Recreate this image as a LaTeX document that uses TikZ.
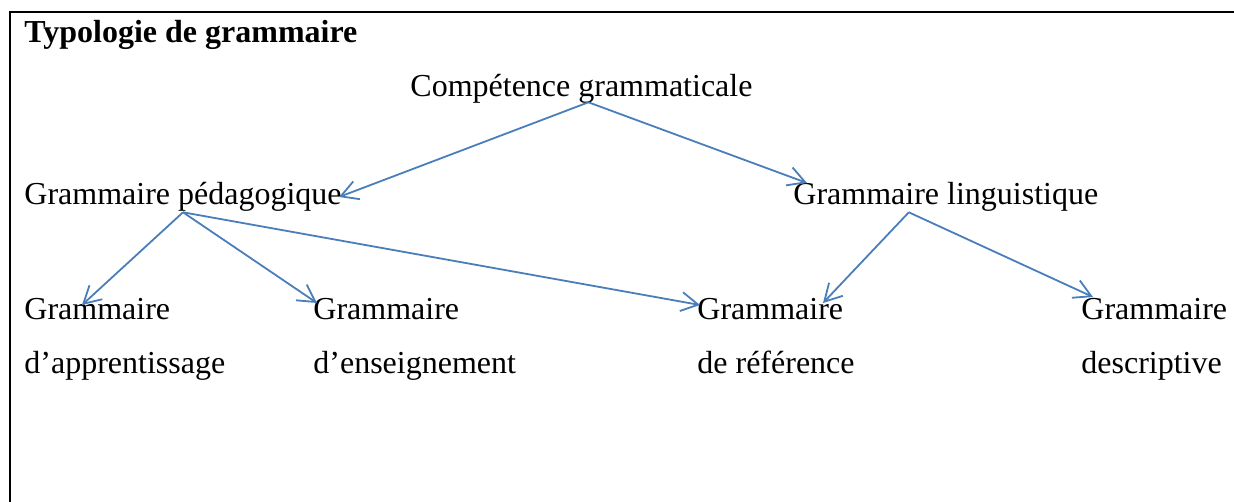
\documentclass[tikz,border=0pt]{standalone}
\usepackage{fontspec}
\setmainfont{Liberation Serif}
\usetikzlibrary{arrows.meta}
\usetikzlibrary{calc}
\definecolor{arrowblue}{RGB}{74,126,187}

\begin{document}
\begin{tikzpicture}[
      x=0.5pt, y=-0.5pt,
      term/.style={anchor=base west, inner sep=0pt, font=\fontsize{16}{27}\selectfont},
      heading/.style={term, font=\fontsize{16}{27}\selectfont\bfseries},
      twoline/.style={term, align=left},
      arrow/.style={-{Straight Barb[length=8.5pt,width=9.5pt]}, line width=0.9pt, draw=arrowblue},
      frame/.style={line width=1pt}
      ]

      \useasboundingbox (0,0) rectangle (1234,502);
      \clip (0,0) rectangle (1234,502);
      \draw[frame] (1260,12.5) -| (10,530);

      % Nodes
      \node[heading] (title) at (24,43) {Typologie de grammaire};
      \node[term] (comp) at (410,97) {Compétence grammaticale};

      \node[term] (ped) at (24,205) {Grammaire pédagogique};
      \node[term] (ling) at (793,205) {Grammaire linguistique};

      % base = second line
      \node[twoline] (app) at (24,373) {Grammaire\\d’apprentissage};
      \node[twoline] (ens) at (313,373) {Grammaire\\d’enseignement};
      \node[twoline] (ref) at (697,373) {Grammaire\\de référence};
      \node[twoline] (desc) at (1081,373) {Grammaire\\descriptive};

      % Arrows
      \draw[arrow] ($(comp.south)+(7,-2)$) -- ($(ped.base east)+(-3,-8)$);
      \draw[arrow] ($(comp.south)+(7,-2)$) -- ($(ling.base west)+(14,-22)$);
      \draw[arrow] (ped.south) -- ($(app.base west)+(58,-68)$);
      \draw[arrow] (ped.south) -- ($(ens.base west)+(4,-70)$);
      \draw[arrow] (ped.south) -- ($(ref.base west)+(3,-68)$);
      \draw[arrow] ($(ling.south)+(-37,0)$) -- ($(ref.base west)+(126,-70)$);
      \draw[arrow] ($(ling.south)+(-37,0)$) -- ($(desc.base west)+(12,-76)$);

    \end{tikzpicture}
\end{document}
